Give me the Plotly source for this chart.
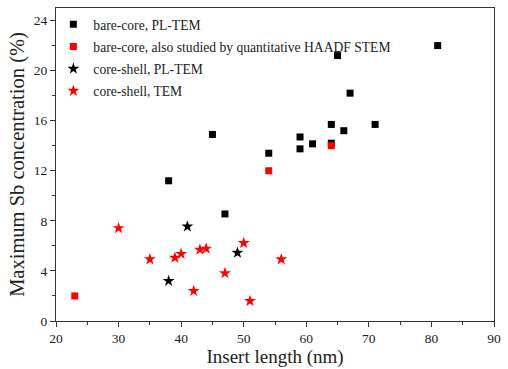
import plotly.graph_objects as go

# bare-core, PL-TEM
bc_x = [81, 65, 67, 64, 66, 71, 59, 61, 59, 64, 45, 54, 38, 47]
bc_y = [22.0, 21.2, 18.2, 15.7, 15.2, 15.7, 14.7, 14.15, 13.75, 14.2, 14.9, 13.4, 11.2, 8.55]
# bare-core, also studied by quantitative HAADF STEM
bq_x = [64, 54, 23]
bq_y = [14.0, 12.0, 2.0]
# core-shell, PL-TEM
cs_x = [41, 49, 38]
cs_y = [7.55, 5.45, 3.2]
# core-shell, TEM
ct_x = [30, 35, 39, 40, 43, 44, 50, 56, 47, 42, 51]
ct_y = [7.42, 4.93, 5.05, 5.36, 5.7, 5.78, 6.23, 4.93, 3.82, 2.4, 1.6]

font = "Liberation Serif, Times New Roman, serif"
fig = go.Figure()
fig.add_trace(go.Scatter(x=bc_x, y=bc_y, mode="markers", name="bare-core, PL-TEM", legendgroup="a",
                         marker=dict(symbol="square", size=7, color="black")))
fig.add_trace(go.Scatter(x=bq_x, y=bq_y, mode="markers", legendgroup="b",
                         name="bare-core, also studied by quantitative HAADF STEM",
                         marker=dict(symbol="square", size=7, color="red")))
fig.add_trace(go.Scatter(x=cs_x, y=cs_y, mode="markers", name="core-shell, PL-TEM", legendgroup="c",
                         marker=dict(symbol="star", size=9, color="black")))
fig.add_trace(go.Scatter(x=ct_x, y=ct_y, mode="markers", name="core-shell, TEM", legendgroup="d",
                         marker=dict(symbol="star", size=9, color="red")))

axis_common = dict(showgrid=False, zeroline=False, showline=True, linecolor="#333",
                   linewidth=1, mirror=True, ticks="outside", ticklen=5,
                   tickcolor="#333", tickfont=dict(family=font, size=13.5, color="#222"),
                   minor=dict(ticks="outside", ticklen=3, tickcolor="#333"))
fig.update_xaxes(range=[20, 90], dtick=10, minor_dtick=5,
                 title=dict(text="Insert length (nm)", font=dict(family=font, size=19, color="#222"),
                            standoff=2),
                 **axis_common)
fig.update_yaxes(range=[0, 25], tickvals=[0, 4, 8, 12, 16, 20, 24], minor_tickvals=[2, 6, 10, 14, 18, 22],
                 title=dict(text="Maximum Sb concentration (%)", font=dict(family=font, size=20.5, color="#222"),
                            standoff=3),
                 **axis_common)
fig.update_layout(width=508, height=369, margin=dict(l=56, r=7, t=8, b=46),
                  paper_bgcolor="white", plot_bgcolor="white",
                  legend=dict(x=-0.006, y=0.997, xanchor="left", yanchor="top",
                              font=dict(family=font, size=13.6, color="#222"),
                              bgcolor="rgba(0,0,0,0)", itemwidth=30, tracegroupgap=1.5),
                  showlegend=True)
fig.write_html("out.html")
